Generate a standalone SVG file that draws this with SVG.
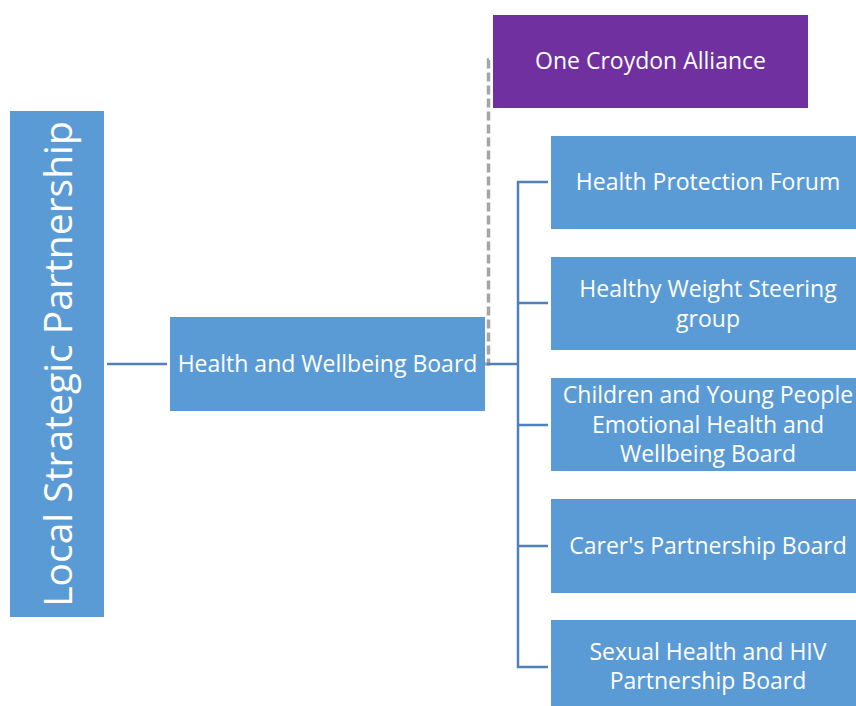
<svg xmlns="http://www.w3.org/2000/svg" width="856" height="706" viewBox="0 0 856 706">
<style>
.box{fill:#5B9BD5}
.t{font-family:"Open Sans","Noto Sans",sans-serif;fill:#FFFFFF;text-anchor:middle;font-size:23px}
.c{fill:none;stroke:#4F81BD;stroke-width:2.5}
.d{fill:none;stroke:#A5A5A5;stroke-width:3.5;stroke-dasharray:9,4}
</style>
<rect width="856" height="706" fill="#FFFFFF"/>
<g id="connectors">
<path class="c" d="M107,364 H167"/>
<path class="d" d="M485,364 H488.5 V60 H493"/>
<path class="c" d="M487,364 H518"/>
<path class="c" d="M548,182 H518 V667 H548"/>
<path class="c" d="M518,303 H548 M518,425 H548 M518,546 H548"/>
</g>
<g id="lsp">
<rect class="box" x="10" y="111" width="94" height="506"/>
<text class="t" transform="translate(71.5,364) rotate(-90)" style="font-size:39px">Local Strategic Partnership</text>
</g>
<g id="hwb">
<rect class="box" x="170" y="317" width="315" height="94"/>
<text class="t" x="327.5" y="372">Health and Wellbeing Board</text>
</g>
<g id="oca">
<rect x="493" y="15" width="315" height="93" fill="#7030A0"/>
<text class="t" x="650.5" y="69">One Croydon Alliance</text>
</g>
<g id="hpf">
<rect class="box" x="551" y="136" width="305" height="93"/>
<text class="t" x="708" y="190">Health Protection Forum</text>
</g>
<g id="hws">
<rect class="box" x="551" y="257" width="305" height="93"/>
<text class="t" x="708" y="297">Healthy Weight Steering</text>
<text class="t" x="708" y="327">group</text>
</g>
<g id="cyp">
<rect class="box" x="551" y="378" width="305" height="93"/>
<text class="t" x="708" y="403">Children and Young People</text>
<text class="t" x="708" y="433">Emotional Health and</text>
<text class="t" x="708" y="462">Wellbeing Board</text>
</g>
<g id="carers">
<rect class="box" x="551" y="499" width="305" height="94"/>
<text class="t" x="708" y="554">Carer's Partnership Board</text>
</g>
<g id="shhiv">
<rect class="box" x="551" y="620" width="305" height="93"/>
<text class="t" x="708" y="660">Sexual Health and HIV</text>
<text class="t" x="708" y="689">Partnership Board</text>
</g>
</svg>
